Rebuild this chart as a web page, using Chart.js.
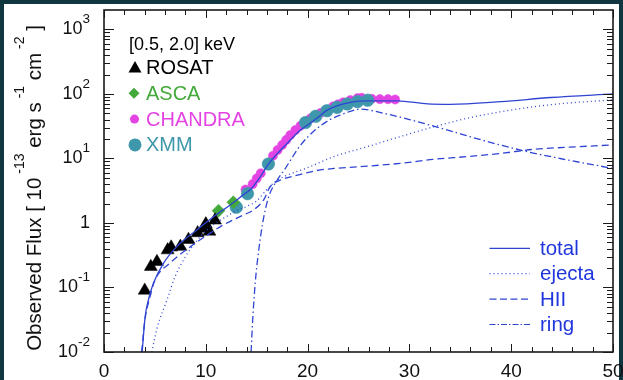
<!DOCTYPE html>
<html>
<head>
<meta charset="utf-8">
<script src="https://cdn.jsdelivr.net/npm/chart.js@4.4.1/dist/chart.umd.min.js"></script>
<style>
  html, body { margin: 0; padding: 0; background: #10363f; }
  #wrap { position: relative; width: 623px; height: 380px; }
</style>
</head>
<body>
<div id="wrap"><canvas id="fluxChart" width="623" height="380"></canvas></div>
<script>
// ── data (days since SN, flux in 1e-13 erg/s/cm2) ──────────────────────────
var rosat = [[4.0,0.09],[4.6,0.21],[5.2,0.25],[6.25,0.38],[6.6,0.42],[7.5,0.43],
             [8.3,0.55],[9.2,0.70],[9.8,0.82],[10.0,0.96],[10.35,0.74],[10.9,1.1]];
var asca  = [[11.25,1.55],[12.7,2.1]];
var chandra = [[13.9,3.3],[14.6,4.0],[15.0,4.9],[15.4,5.9],[16.6,11],[17.05,13.5],[17.5,16.2],
               [17.9,19.4],[18.3,23],[18.8,27.5],[19.3,32],[19.8,37],[20.3,42],[20.8,46],
               [21.3,51],[21.8,56],[22.5,64],[23.0,69],[23.5,74],[24.2,80],[24.9,86],[25.3,87],
               [26.3,84],[27.1,83],[27.9,83],[28.6,82]];
var xmm = [[13.0,1.75],[14.1,2.85],[16.15,8.2],[19.8,36],[20.8,45],[21.9,55],[22.9,62],
           [23.9,70],[24.9,76],[25.9,80]];

var totalCurve  = [[3.75,0.01],[4.04,0.035],[4.36,0.064],[4.85,0.116],[5.84,0.237],[7.15,0.43],
                   [9.12,0.78],[10.76,1.25],[12.4,1.9],[13.9,2.9],[14.4,3.3],[15.35,5.2],[16.2,8.4],
                   [17.0,11.8],[18.0,17.2],[19.3,27.6],[20.0,33],[21.0,43],[22.0,57],[24.2,74],
                   [25.85,78],[28.8,78],[31.8,70],[34.0,69],[39.0,76],[43.9,88],[50,100]];
var ejectaCurve = [[4.7,0.01],[5.2,0.023],[6.2,0.065],[7.0,0.15],[8.0,0.3],[9.0,0.5],[10.0,0.75],
                   [11.0,1.0],[12.0,1.25],[13.0,1.55],[14.0,1.8],[15.0,2.2],[16.0,3.3],[17.0,4.6],
                   [18.0,5.5],[20.0,7.2],[22.6,10.7],[25.85,15.2],[29.1,21.8],[32.4,31],[35.7,42],
                   [39.0,53],[42.3,63.6],[45.5,72],[50,81]];
var hiiCurve    = [[3.7,0.01],[4.0,0.03],[4.5,0.07],[5.0,0.13],[6.5,0.24],[8.5,0.43],[10.4,0.69],
                   [11.7,0.93],[13.7,1.33],[14.7,1.6],[15.7,2.3],[16.3,3.6],[17.3,4.6],[19.0,5.5],
                   [20.9,6.5],[22.6,7.0],[25.85,7.6],[29.1,8.4],[32.4,9.7],[35.7,10.7],[39.0,12],
                   [42.3,13.9],[45.5,14.9],[50,16.2]];
var ringCurve   = [[14.45,0.01],[14.6,0.03],[14.86,0.12],[15.2,0.38],[15.7,1.25],[16.2,2.6],
                   [17.0,4.6],[17.7,6.6],[19.3,16],[20.9,29],[22.2,40],[23.2,47],[25.2,58],
                   [27.5,50],[30.0,40],[33.1,29.4],[37.7,18.2],[41.6,12.7],[45.5,9.5],[50,7.0]];

var xTicks = [0, 10, 20, 30, 40, 50];
var yDecades = [-2, -1, 0, 1, 2, 3];
var X_MIN = 0, X_MAX = 50, Y_MIN = 0.01, Y_MAX = 2000;

var markerLegend = [
  { label: "ROSAT",   color: "#000000", style: "triangle" },
  { label: "ASCA",    color: "#43a93a", style: "diamond"  },
  { label: "CHANDRA", color: "#e344e3", style: "dot"      },
  { label: "XMM",     color: "#3f97ab", style: "bigdot"   }
];
var lineLegend = [
  { label: "total",  dash: []          },
  { label: "ejecta", dash: [1, 3]      },
  { label: "HII",    dash: [7, 3.5]    },
  { label: "ring",   dash: [6, 2, 1.5, 2] }
];

var LINE_BLUE = "#2f45d2";
var TEXT_BLUE = "#1f36dc";
var FONT = "'Liberation Sans', Arial, sans-serif";

function pts(arr) { return arr.map(function(p) { return { x: p[0], y: p[1] }; }); }

function curve(data, dash) {
  return {
    data: pts(data), showLine: true, pointRadius: 0, pointHoverRadius: 0,
    borderColor: LINE_BLUE, borderWidth: 1.3, borderDash: dash,
    cubicInterpolationMode: "monotone", fill: false
  };
}
function markers(data, color, style, r) {
  return {
    data: pts(data), showLine: false, pointStyle: style, pointRadius: r,
    pointBackgroundColor: color, pointBorderColor: color, pointBorderWidth: 0.5
  };
}

// ── frame, ticks, labels, legends ──────────────────────────────────────────
function drawSupText(ctx, x, y, parts, align) {
  var base = "18px " + FONT, sup = "13.5px " + FONT;
  var w = 0;
  parts.forEach(function(p) { ctx.font = p[1] ? sup : base; w += ctx.measureText(p[0]).width; });
  var cx = align === "right" ? x - w : x;
  ctx.textAlign = "left";
  parts.forEach(function(p) {
    ctx.font = p[1] ? sup : base;
    ctx.fillText(p[0], cx, p[1] ? y - 11 : y);
    cx += ctx.measureText(p[0]).width;
  });
}

var decor = {
  id: "decor",
  beforeDraw: function(chart) {
    var c = chart.ctx;
    c.save();
    c.fillStyle = "#10363f"; c.fillRect(0, 0, chart.width, chart.height);
    c.fillStyle = "#ffffff"; c.fillRect(4, 4, chart.width - 8, chart.height - 4);
    c.restore();
  },
  afterDraw: function(chart) {
    var c = chart.ctx, a = chart.chartArea, xs = chart.scales.x, ys = chart.scales.y;
    c.save();
    c.strokeStyle = "#1a1a1a";

    // tick marks, inward, all four sides
    c.lineWidth = 1;
    c.beginPath();
    for (var v = X_MIN; v <= X_MAX; v += 2) {
      var px = Math.round(xs.getPixelForValue(v)) + 0.5, len = v % 10 === 0 ? 8 : 5;
      c.moveTo(px, a.bottom); c.lineTo(px, a.bottom - len);
      c.moveTo(px, a.top);    c.lineTo(px, a.top + len);
    }
    yDecades.forEach(function(e) {
      for (var m = 1; m <= 9; m++) {
        var val = m * Math.pow(10, e);
        if (val >= Y_MAX * 0.999) break;
        var py = Math.round(ys.getPixelForValue(val)) + 0.5, l = m === 1 ? 10 : 6;
        c.moveTo(a.left, py);  c.lineTo(a.left + l, py);
        c.moveTo(a.right, py); c.lineTo(a.right - l, py);
      }
    });
    c.stroke();
    c.lineWidth = 1.6;
    c.strokeRect(a.left, a.top, a.right - a.left, a.bottom - a.top);

    // tick labels
    c.fillStyle = "#111111";
    c.textBaseline = "alphabetic";
    c.font = "19px " + FONT; c.textAlign = "center";
    xTicks.forEach(function(t) { c.fillText(String(t), xs.getPixelForValue(t), 377); });
    yDecades.forEach(function(e) {
      var py = ys.getPixelForValue(Math.pow(10, e)) + 5;
      if (e === 0) drawSupText(c, 90, py, [["1", false]], "right");
      else drawSupText(c, 90, py, [["10", false], [String(e), true]], "right");
    });

    // y title, rotated, with superscripts
    c.save();
    c.translate(41, 188);
    c.rotate(-Math.PI / 2);
    var title = [["Observed Flux [ 10", false], [" -13", true], [" erg s", false], [" -1", true],
                 [" cm", false], [" -2", true], [" ]", false]];
    var tw = 0;
    title.forEach(function(p) { c.font = (p[1] ? "14px " : "20.5px ") + FONT; tw += c.measureText(p[0]).width; });
    var tx = -tw / 2;
    c.textAlign = "left";
    title.forEach(function(p) {
      c.font = (p[1] ? "14px " : "20.5px ") + FONT;
      c.fillText(p[0], tx, p[1] ? -17 : 0);
      tx += c.measureText(p[0]).width;
    });
    c.restore();

    // marker legend, top left
    c.font = "18px " + FONT; c.textAlign = "left"; c.fillStyle = "#000";
    c.fillText("[0.5, 2.0] keV", 129, 49.5);
    markerLegend.forEach(function(it, i) {
      var by = 74 + i * 25.8, my = by - 6.5;
      c.fillStyle = it.color;
      c.beginPath();
      if (it.style === "triangle") { c.moveTo(135, my - 6.5); c.lineTo(141.5, my + 5); c.lineTo(128.5, my + 5); c.closePath(); }
      else if (it.style === "diamond") { c.moveTo(134, my - 5.5); c.lineTo(139.5, my); c.lineTo(134, my + 5.5); c.lineTo(128.5, my); c.closePath(); }
      else if (it.style === "dot") { c.arc(134.5, my, 4.5, 0, Math.PI * 2); }
      else { c.arc(135, my, 6.5, 0, Math.PI * 2); }
      c.fill();
      c.font = "20px " + FONT;
      c.fillText(it.label, 146, by);
    });

    // line legend, bottom right
    lineLegend.forEach(function(it, i) {
      var by = 255 + i * 25.4, ly = by - 6.7;
      c.strokeStyle = LINE_BLUE; c.lineWidth = 1.2; c.setLineDash(it.dash);
      c.beginPath(); c.moveTo(489.5, ly); c.lineTo(530, ly); c.stroke();
      c.setLineDash([]);
      c.fillStyle = TEXT_BLUE; c.font = "20.5px " + FONT;
      c.fillText(it.label, 540, by);
    });
    c.restore();
  }
};

new Chart(document.getElementById("fluxChart").getContext("2d"), {
  type: "line",
  data: {
    datasets: [
      curve(totalCurve, []),
      curve(ejectaCurve, [1, 3]),
      curve(hiiCurve, [7, 4]),
      curve(ringCurve, [7, 3, 1.5, 3]),
      markers(rosat, "#000000", "triangle", 7.5),
      markers(asca, "#43a93a", "rectRot", 6.5),
      markers(xmm, "#3f97ab", "circle", 6.3),
      markers(chandra, "#e344e3", "circle", 4.6)
    ]
  },
  options: {
    responsive: false, animation: false, devicePixelRatio: 1,
    layout: { padding: { left: 0, top: 10, right: 10, bottom: 0 } },
    plugins: { legend: { display: false }, tooltip: { enabled: false } },
    scales: {
      x: {
        type: "linear", min: X_MIN, max: X_MAX,
        grid: { display: false, drawTicks: false }, border: { display: false },
        ticks: { display: false },
        afterFit: function(s) { s.height = 28; }
      },
      y: {
        type: "logarithmic", min: Y_MIN, max: Y_MAX,
        grid: { display: false, drawTicks: false }, border: { display: false },
        ticks: { display: false },
        afterFit: function(s) { s.width = 104; }
      }
    }
  },
  plugins: [decor]
});
</script>
</body>
</html>
